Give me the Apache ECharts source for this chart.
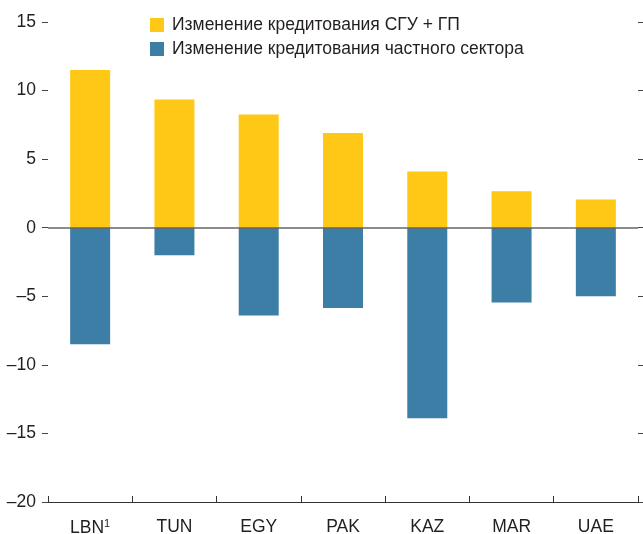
<!DOCTYPE html>
<html>
<head>
<meta charset="utf-8">
<script src="https://cdn.jsdelivr.net/npm/echarts@6/dist/echarts.min.js"></script>
<style>
  html, body { margin: 0; padding: 0; background: #fff; }
  #chart { width: 643px; height: 534px; }
</style>
</head>
<body>
<div id="chart"></div>
<script>
const categories = ['LBN', 'TUN', 'EGY', 'PAK', 'KAZ', 'MAR', 'UAE'];
const publicCredit = [11.5, 9.35, 8.25, 6.9, 4.1, 2.65, 2.05];
const privateCredit = [-8.5, -2.0, -6.4, -5.85, -13.9, -5.45, -5.0];
const seriesNames = ['Изменение кредитования СГУ + ГП', 'Изменение кредитования частного сектора'];

const FONT = 'Liberation Sans, Arial, sans-serif';
const TEXT = '#231f20';

const chart = echarts.init(document.getElementById('chart'));

const yFmt = v => (v < 0 ? '\u2013' + Math.abs(v) : String(v));

chart.setOption({
  animation: false,
  textStyle: { fontFamily: FONT },
  grid: { left: 48, right: 5, top: 22, bottom: 32, outerBoundsMode: 'none', containLabel: false },
  legend: {
    orient: 'vertical',
    left: 150,
    top: 16,
    padding: 0,
    itemWidth: 14,
    itemHeight: 14,
    itemGap: 6,
    icon: 'rect',
    textStyle: { fontFamily: FONT, fontSize: 17.5, color: TEXT, padding: [0, 0, 0, 3] },
    data: seriesNames
  },
  xAxis: {
    type: 'category',
    data: categories,
    axisLine: { onZero: false, lineStyle: { color: '#333', width: 1.2 } },
    axisTick: { show: true, interval: 0, inside: true, length: 6, lineStyle: { color: '#333' } },
    axisLabel: {
      interval: 0,
      margin: 16,
      fontSize: 17.5,
      color: TEXT,
      formatter: v => (v === 'LBN' ? 'LBN{sup|1}' : v),
      rich: { sup: { fontSize: 11, padding: [0, 0, 9, 0], color: TEXT } }
    }
  },
  yAxis: [
    {
      type: 'value',
      min: -20, max: 15, interval: 5,
      axisLine: { show: false },
      axisTick: { show: true, length: 6, lineStyle: { color: '#444' } },
      splitLine: { show: false },
      axisLabel: { fontSize: 17.5, color: TEXT, margin: 12, formatter: yFmt }
    },
    {
      type: 'value',
      position: 'right',
      min: -20, max: 15, interval: 5,
      axisLine: { show: false },
      axisTick: { show: true, length: 6, lineStyle: { color: '#444' } },
      splitLine: { show: false },
      axisLabel: { show: false }
    }
  ],
  series: [
    {
      name: seriesNames[0],
      type: 'bar',
      stack: 'credit',
      barWidth: 40,
      itemStyle: { color: '#ffc716' },
      data: publicCredit
    },
    {
      name: seriesNames[1],
      type: 'bar',
      stack: 'credit',
      barWidth: 40,
      itemStyle: { color: '#3d7ea6' },
      data: privateCredit,
      markLine: {
        silent: true,
        symbol: 'none',
        label: { show: false },
        lineStyle: { color: '#666', width: 1.5, type: 'solid' },
        data: [{ yAxis: 0 }],
        z: 10
      }
    }
  ]
});
</script>
</body>
</html>
